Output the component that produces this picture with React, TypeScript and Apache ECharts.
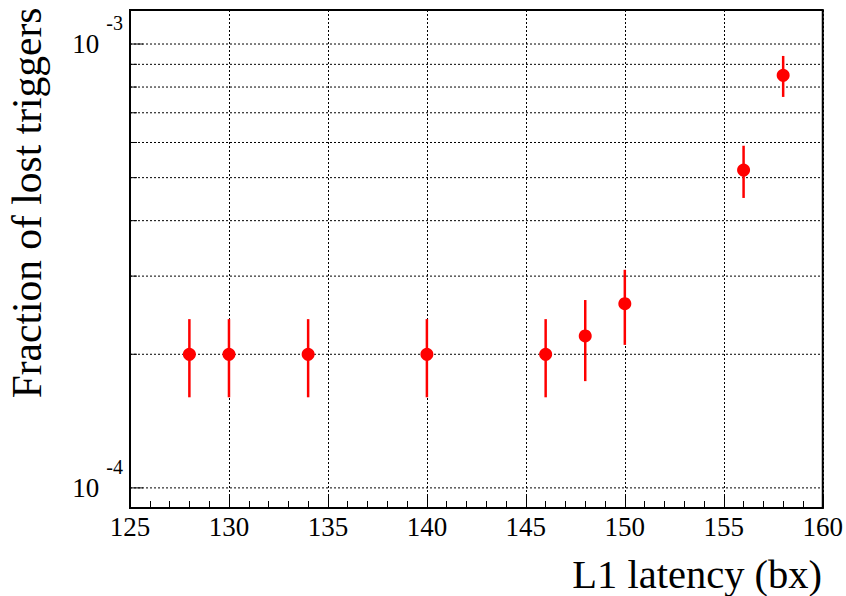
import React, { useEffect, useRef } from "react";
import * as echarts from "echarts";

const latency = [128, 130, 134, 140, 146, 148, 150, 156, 158];
const fraction = [2.0e-4, 2.0e-4, 2.0e-4, 2.0e-4, 2.0e-4, 2.2e-4, 2.6e-4, 5.2e-4, 8.5e-4];
const errLow = [1.6e-4, 1.6e-4, 1.6e-4, 1.6e-4, 1.6e-4, 1.74e-4, 2.1e-4, 4.5e-4, 7.6e-4];
const errHigh = [2.4e-4, 2.4e-4, 2.4e-4, 2.4e-4, 2.4e-4, 2.65e-4, 3.1e-4, 5.9e-4, 9.4e-4];
const yGrid = [1e-4, 2e-4, 3e-4, 4e-4, 5e-4, 6e-4, 7e-4, 8e-4, 9e-4, 1e-3];
const yMajor = [1e-4, 1e-3];
const yRange = [9.01e-5, 1.193e-3];
const xRange = [125, 160];

const FONT = "Liberation Serif";

export default function App() {
  const ref = useRef<HTMLDivElement>(null);
  useEffect(() => {
    if (!ref.current) return;
    const chart = echarts.init(ref.current, null, { renderer: "svg" });
    const isMajor = (v: number) => yMajor.some((m) => Math.abs(Math.log10(v) - Math.log10(m)) < 1e-6);
    chart.setOption({
      animation: false,
      backgroundColor: "#fff",
      textStyle: { fontFamily: FONT },
      grid: {
        left: 130,
        top: 10,
        right: 23,
        bottom: 88,
        show: true,
        borderColor: "#000",
        borderWidth: 2,
        backgroundColor: "transparent",
      },
      xAxis: {
        type: "value",
        min: xRange[0],
        max: xRange[1],
        interval: 5,
        axisLine: { show: true, onZero: false, lineStyle: { color: "#000", width: 2 } },
        axisTick: { show: true, inside: true, length: 13, lineStyle: { color: "#000", width: 1 } },
        minorTick: { show: true, splitNumber: 5, length: 7, lineStyle: { color: "#000", width: 1 } },
        splitLine: { show: true, lineStyle: { color: "#000", width: 1, type: [2, 2] } },
        axisLabel: {
          color: "#000",
          margin: 5,
          fontSize: 27,
          fontFamily: "Liberation Serif",
          fontStyle: "normal",
          fontWeight: "normal",
        },
      },
      yAxis: {
        type: "log",
        logBase: 10,
        min: yRange[0],
        max: yRange[1],
        axisLine: { show: true, lineStyle: { color: "#000", width: 2 } },
        axisTick: { show: false },
        splitLine: { show: false },
        minorTick: { show: false },
        axisLabel: {
          color: "#000",
          fontFamily: FONT,
          fontSize: 27,
          margin: 7,
          showMinLabel: true,
          showMaxLabel: true,
          formatter: (v: number) => {
            if (!isMajor(v)) return "";
            const e = Math.round(Math.log10(v));
            return "{a|10}{b|" + e + "}";
          },
          rich: {
            a: { fontSize: 27, fontFamily: FONT, fontStyle: "normal", fontWeight: "normal", color: "#000", lineHeight: 62, verticalAlign: "middle" },
            b: { fontSize: 20, fontFamily: FONT, fontStyle: "normal", fontWeight: "normal", color: "#000", lineHeight: 20, verticalAlign: "top", padding: [0, 0, 0, 7] },
          },
        },
      },
      graphic: [
        {
          type: "text",
          x: 27,
          y: 203,
          rotation: Math.PI / 2,
          style: {
            text: "Fraction of lost triggers",
            fontSize: 41.5,
            fontFamily: FONT,
            fill: "#000",
            align: "center",
            verticalAlign: "middle",
          },
        },
        {
          type: "text",
          x: 822,
          y: 574,
          style: {
            text: "L1 latency (bx)",
            fontSize: 40.5,
            fontFamily: FONT,
            fill: "#000",
            align: "right",
            verticalAlign: "middle",
          },
        },
      ],
      series: [
        {
          type: "custom",
          z: 1,
          silent: true,
          clip: false,
          data: yGrid.map((v) => [140, v]),
          renderItem: (params: any, api: any) => {
            const v = api.value(1);
            const p = api.coord([140, v]);
            const cs = params.coordSys;
            const len = isMajor(v) ? 13 : 7;
            return {
              type: "group",
              children: [
                {
                  type: "line",
                  shape: { x1: cs.x, y1: p[1], x2: cs.x + cs.width, y2: p[1] },
                  style: { stroke: "#000", lineWidth: 1, lineDash: [2, 2] },
                },
                {
                  type: "line",
                  shape: { x1: cs.x, y1: p[1], x2: cs.x + len, y2: p[1] },
                  style: { stroke: "#000", lineWidth: 1 },
                },
              ],
            };
          },
        },
        {
          type: "custom",
          z: 3,
          silent: true,
          data: latency.map((x, i) => [x, errLow[i], errHigh[i]]),
          renderItem: (params: any, api: any) => {
            const lo = api.coord([api.value(0), api.value(1)]);
            const hi = api.coord([api.value(0), api.value(2)]);
            return {
              type: "line",
              shape: { x1: lo[0], y1: lo[1], x2: hi[0], y2: hi[1] },
              style: { stroke: "#ff0000", lineWidth: 2.5 },
            };
          },
        },
        {
          type: "scatter",
          z: 4,
          symbol: "circle",
          symbolSize: 13,
          itemStyle: { color: "#ff0000", opacity: 1 },
          data: latency.map((x, i) => [x, fraction[i]]),
        },
      ],
    });
    return () => chart.dispose();
  }, []);
  return (
    <div
      ref={ref}
      style={{ position: "fixed", left: 0, top: 0, width: 846, height: 596, background: "#fff" }}
    />
  );
}
